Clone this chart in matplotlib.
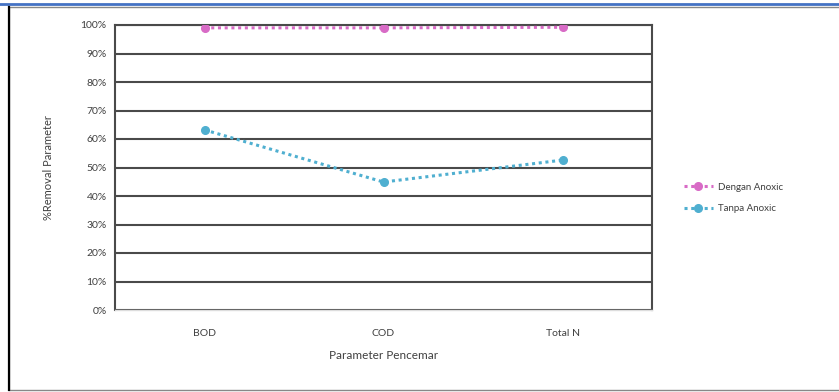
import matplotlib.pyplot as plt
from matplotlib.lines import Line2D
from matplotlib.patches import Rectangle
from matplotlib.ticker import PercentFormatter, MultipleLocator

plt.rcParams['font.family'] = ['Lato', 'DejaVu Sans']

categories = ['BOD', 'COD', 'Total N']
dengan_anoxic = [99.0, 99.0, 99.2]
tanpa_anoxic = [63.2, 44.9, 52.6]

W, H = 839, 392
fig = plt.figure(figsize=(W / 100, H / 100), dpi=100)

# frame around the whole chart
fig.add_artist(Line2D([0, 1], [1 - 3.5 / H, 1 - 3.5 / H], color='#4472C4', lw=2,
                      transform=fig.transFigure))
fig.add_artist(Rectangle((9 / W, 2 / H), 1.2, (H - 9) / H, fill=False,
                         edgecolor='#888888', lw=1, transform=fig.transFigure))
fig.add_artist(Line2D([9 / W, 9 / W], [2 / H, (H - 7) / H], color='black', lw=1.6,
                      transform=fig.transFigure))

ax = fig.add_axes([115 / W, 1 - 310 / H, (652 - 115) / W, (310 - 25) / H])

x = range(len(categories))
ax.plot(x, dengan_anoxic, linestyle=(0, (1, 1.2)), color='#D86BC6', lw=2.2,
        marker='o', markersize=5.5, label='Dengan Anoxic', zorder=3)
ax.plot(x, tanpa_anoxic, linestyle=(0, (1, 1.2)), color='#4FAFD0', lw=2.2,
        marker='o', markersize=5.5, label='Tanpa Anoxic', zorder=3)

ax.set_xlim(-0.5, 2.5)
ax.set_ylim(0, 100)
ax.set_xticks(list(x))
ax.set_xticklabels(categories)
ax.yaxis.set_major_locator(MultipleLocator(10))
ax.yaxis.set_major_formatter(PercentFormatter(decimals=0))
ax.tick_params(length=0, labelsize=7.5, colors='#404040', pad=6)
ax.tick_params(axis='x', pad=14)

ax.grid(axis='y', color='#4a4a4a', lw=1.5)
ax.set_axisbelow(True)
for s in ['left', 'right', 'top']:
    ax.spines[s].set_color('#4a4a4a')
    ax.spines[s].set_linewidth(1.5)
ax.spines['bottom'].set_color('#dddddd')
ax.spines['bottom'].set_linewidth(1)

ax.set_ylabel('%Removal Parameter', fontsize=8, color='#404040', labelpad=19)
ax.set_xlabel('Parameter Pencemar', fontsize=8.5, color='#404040', labelpad=8)

fig.legend(loc='center left', bbox_to_anchor=(675 / W, 1 - 198 / H), frameon=False,
           fontsize=7, labelcolor='#404040', handlelength=3, handletextpad=0.5,
           labelspacing=1.3)

fig.savefig('out.png', dpi=100)
